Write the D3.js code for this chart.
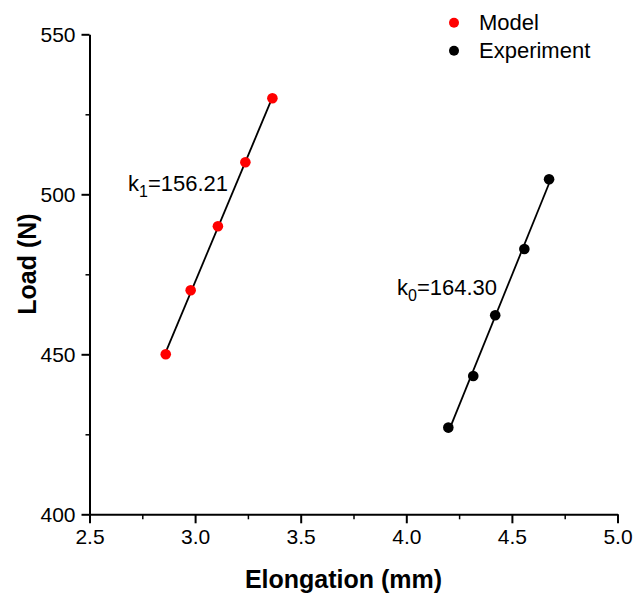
<!DOCTYPE html>
<html>
<head>
  <meta charset="utf-8">
  <title>Load vs Elongation</title>
  <style>
    body { margin: 0; background: #fff; }
    text { font-family: "Liberation Sans", Arial, sans-serif; fill: #000; }
  </style>
</head>
<body>
  <svg id="svg"></svg>

  <script src="https://d3js.org/d3.v7.min.js"></script>
  <script>
    // data
    let modelElong = [2.861, 2.979, 3.108, 3.238, 3.366];
    let modelLoad = [450, 470, 490, 510, 530];
    let expElong = [4.199, 4.317, 4.421, 4.559, 4.676];
    let expLoad = [427.1, 443.2, 462.2, 482.9, 504.7];

    let xTicks = [2.5, 3.0, 3.5, 4.0, 4.5, 5.0];
    let yTicks = [400, 450, 500, 550];
    let seriesNames = ["Model", "Experiment"];
    let seriesColors = ["#ff0000", "#000000"];
    let slopeLabels = [["k", "1", "=156.21"], ["k", "0", "=164.30"]];

    let width = 633, height = 595;
    let margin = { top: 34.3, right: 15.5, bottom: 80.7, left: 89.5 };
    let w = width - margin.left - margin.right;
    let h = height - margin.top - margin.bottom;

    let svg = d3.select("#svg").attr("width", width).attr("height", height);
    let g = svg.append("g").attr("transform", `translate(${margin.left}, ${margin.top})`);

    let xScale = d3.scaleLinear().domain([2.5, 5.0]).range([0, w]);
    let yScale = d3.scaleLinear().domain([400, 550]).range([h, 0]);

    // minor ticks first, then major axes on top
    let xMinor = d3.range(2.75, 5.0, 0.5);
    let yMinor = d3.range(425, 550, 50);

    g.append("g")
      .attr("transform", `translate(0, ${h})`)
      .call(d3.axisBottom(xScale).tickValues(xMinor).tickFormat("").tickSize(5).tickSizeOuter(0))
      .call(a => a.select(".domain").remove())
      .call(a => a.selectAll("line").attr("stroke-width", 1.5));

    g.append("g")
      .call(d3.axisLeft(yScale).tickValues(yMinor).tickFormat("").tickSize(4).tickSizeOuter(0))
      .call(a => a.select(".domain").remove())
      .call(a => a.selectAll("line").attr("stroke-width", 1.5));

    g.append("g")
      .attr("transform", `translate(0, ${h})`)
      .call(d3.axisBottom(xScale).tickValues(xTicks).tickFormat(d3.format(".1f")).tickSize(9).tickSizeOuter(0).tickPadding(6))
      .call(a => a.select(".domain").attr("stroke-width", 2))
      .call(a => a.selectAll("line").attr("stroke-width", 2))
      .call(a => a.selectAll("text").attr("font-size", 21).attr("font-family", null));

    g.append("g")
      .call(d3.axisLeft(yScale).tickValues(yTicks).tickSize(8).tickSizeOuter(0).tickPadding(6))
      .call(a => a.select(".domain").attr("stroke-width", 2))
      .call(a => a.selectAll("line").attr("stroke-width", 2))
      .call(a => a.selectAll("text").attr("font-size", 21).attr("font-family", null));

    // axis titles
    svg.append("text")
      .attr("x", margin.left + w / 2 - 10)
      .attr("y", 588)
      .attr("text-anchor", "middle")
      .attr("font-size", 25)
      .attr("font-weight", "bold")
      .text("Elongation (mm)");

    svg.append("text")
      .attr("transform", `translate(36, 264) rotate(-90)`)
      .attr("text-anchor", "middle")
      .attr("font-size", 25)
      .attr("font-weight", "bold")
      .text("Load (N)");

    // linear fit lines
    function fit(xs, ys) {
      let mx = d3.mean(xs), my = d3.mean(ys);
      let num = d3.sum(xs, (x, i) => (x - mx) * (ys[i] - my));
      let den = d3.sum(xs, x => (x - mx) * (x - mx));
      let b = num / den;
      return x => my + b * (x - mx);
    }

    let series = [
      { xs: modelElong, ys: modelLoad },
      { xs: expElong, ys: expLoad }
    ];

    series.forEach((s, i) => {
      let f = fit(s.xs, s.ys);
      let ext = d3.extent(s.xs);
      g.append("line")
        .attr("x1", xScale(ext[0])).attr("y1", yScale(f(ext[0])))
        .attr("x2", xScale(ext[1])).attr("y2", yScale(f(ext[1])))
        .attr("stroke", "#000")
        .attr("stroke-width", 1.8);

      g.selectAll(".pt" + i)
        .data(s.xs.map((x, j) => [x, s.ys[j]]))
        .join("circle")
        .attr("cx", d => xScale(d[0]))
        .attr("cy", d => yScale(d[1]))
        .attr("r", 5.3)
        .attr("fill", seriesColors[i]);
    });

    // slope labels
    let labelPos = [[128, 191], [397, 295]];
    slopeLabels.forEach((lab, i) => {
      let t = svg.append("text")
        .attr("x", labelPos[i][0])
        .attr("y", labelPos[i][1])
        .attr("font-size", 22);
      t.append("tspan").text(lab[0]);
      t.append("tspan").attr("dy", 6).attr("font-size", 16).text(lab[1]);
      t.append("tspan").attr("dy", -6).text(lab[2]);
    });

    // legend
    let legend = svg.append("g").attr("transform", "translate(454, 22.7)");
    seriesNames.forEach((name, i) => {
      let row = legend.append("g").attr("transform", `translate(0, ${i * 28})`);
      row.append("circle").attr("r", 5).attr("fill", seriesColors[i]);
      row.append("text")
        .attr("x", 25)
        .attr("y", 7.5)
        .attr("font-size", 22)
        .text(name);
    });
  </script>
</body>
</html>
